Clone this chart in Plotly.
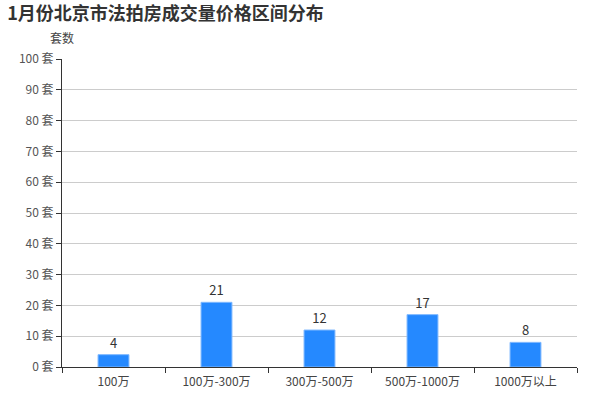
import plotly.graph_objects as go

categories = ["100万", "100万-300万", "300万-500万", "500万-1000万", "1000万以上"]
values = [4, 21, 12, 17, 8]
y_ticks = list(range(0, 101, 10))
y_tick_text = [f"{v} 套" for v in y_ticks]

font_family = "Noto Sans CJK SC, Noto Sans, sans-serif"

fig = go.Figure()
fig.add_trace(go.Bar(
    x=categories,
    y=values,
    width=0.3,
    marker=dict(color="#2589ff", line=dict(color="#7fb8ff", width=1)),
    text=[str(v) for v in values],
    textposition="outside",
    textfont=dict(size=13, color="#333333", family=font_family),
    cliponaxis=False,
))

fig.update_layout(
    width=600, height=400,
    margin=dict(l=62, r=23, t=59, b=33),
    plot_bgcolor="white", paper_bgcolor="white",
    font=dict(family=font_family, size=12, color="#444444"),
    showlegend=False,
    bargap=0.7,
    title=dict(text="<b>1月份北京市法拍房成交量价格区间分布</b>", x=0.012, xanchor="left",
               y=0.965, yanchor="middle",
               font=dict(size=18, color="#333333", family=font_family)),
    xaxis=dict(
        type="category", automargin=False,
        showline=True, linecolor="#333333", linewidth=1,
        ticks="outside", tickson="boundaries", ticklen=5, tickcolor="#333333",
        tickfont=dict(size=12, color="#444444"), ticklabelstandoff=4,
        showgrid=False,
    ),
    yaxis=dict(
        range=[0, 100], tickvals=y_ticks, ticktext=y_tick_text, automargin=False,
        showline=True, linecolor="#333333", linewidth=1,
        ticks="outside", ticklen=5, tickcolor="#333333",
        tickfont=dict(size=12, color="#555555"),
        showgrid=True, gridcolor="#cccccc", gridwidth=1,
        zeroline=False,
    ),
    annotations=[dict(text="套数", xref="paper", yref="paper", x=0.0, y=1.035,
                      xanchor="center", yanchor="bottom", showarrow=False,
                      font=dict(size=12, color="#444444"))],
)

fig.write_html("out.html", config={"displayModeBar": False},
               post_script="document.body.style.margin='0';document.body.style.overflow='hidden';")
